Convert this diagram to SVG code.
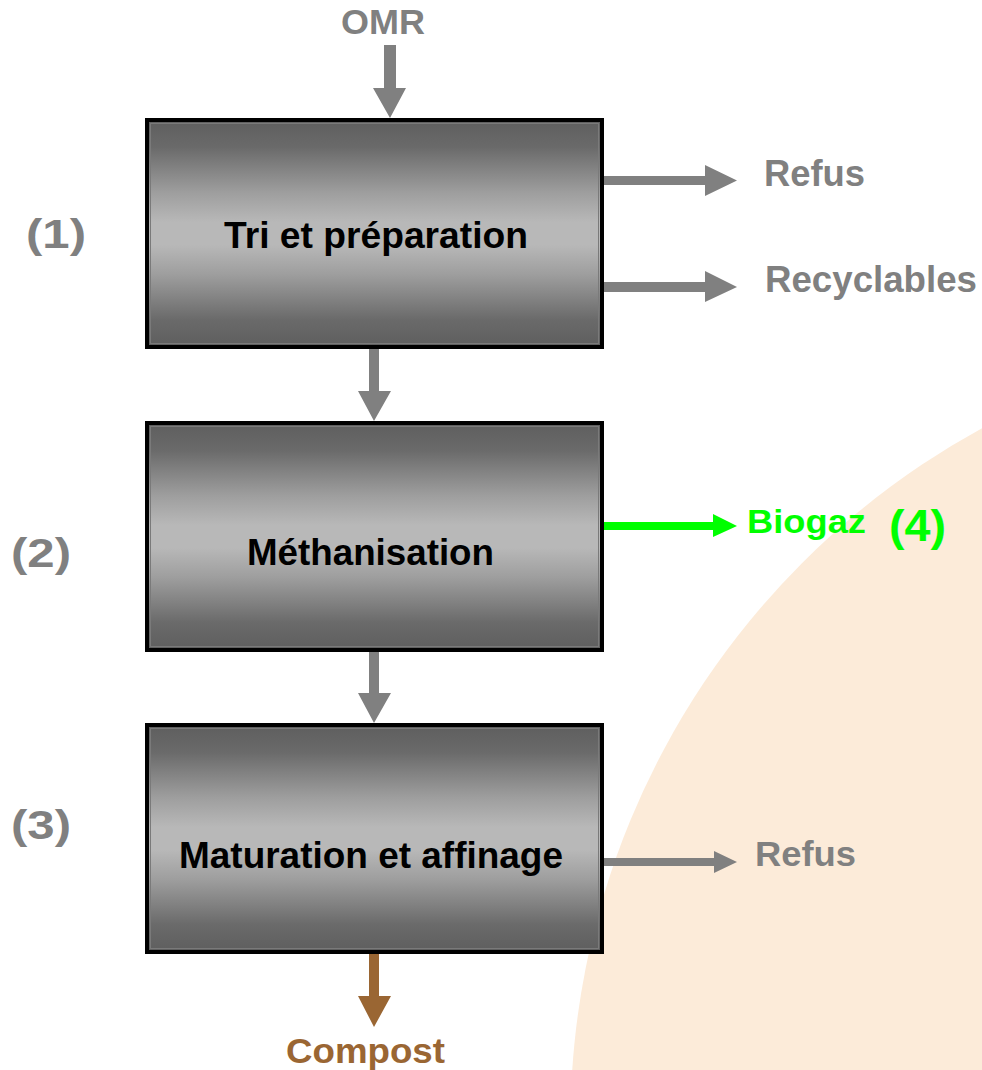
<svg xmlns="http://www.w3.org/2000/svg" width="982" height="1070" viewBox="0 0 982 1070">
<defs>
<linearGradient id="boxGrad" x1="0" y1="0" x2="0" y2="1">
<stop offset="0" stop-color="#5e5e5e"/>
<stop offset="0.12" stop-color="#6a6a6a"/>
<stop offset="0.32" stop-color="#9e9e9e"/>
<stop offset="0.45" stop-color="#b8b8b8"/>
<stop offset="0.55" stop-color="#b8b8b8"/>
<stop offset="0.68" stop-color="#9e9e9e"/>
<stop offset="0.88" stop-color="#6a6a6a"/>
<stop offset="1" stop-color="#5e5e5e"/>
</linearGradient>
</defs>
<style>
.box{fill:url(#boxGrad);stroke:#000;stroke-width:4}
.inner{fill:none;stroke:#7a7a7a;stroke-width:1}
.t{font-family:"Liberation Sans",Arial,sans-serif;font-weight:bold}
.boxt{fill:#000}
.grey{fill:#808080}
.green{fill:#00ff00}
.brown{fill:#9a6633}
.garr{fill:#808080}
</style>
<rect width="982" height="1070" fill="#ffffff"/>
<circle id="background" cx="1361.5" cy="1122.3" r="791" fill="#fcebd9"/>

<g id="connectors">
<polygon class="garr" points="384,45 396,45 396,88 406,88 390,118 373,88 384,88"/>
<polygon class="garr" points="369,349 379,349 379,391 391,391 374,421 358,391 369,391"/>
<polygon class="garr" points="369,652 379,652 379,693 391,693 374,723 358,693 369,693"/>
<polygon fill="#9a6633" points="369,954 379,954 379,996 391,996 374,1027 358,996 369,996"/>
<polygon class="garr" points="604,176 705,176 705,165 737,180.5 705,196 705,185 604,185"/>
<polygon class="garr" points="604,282 705,282 705,271 737,287 705,302 705,292 604,292"/>
<polygon fill="#00ff00" points="604,522 713,522 713,514 737,526 713,537 713,530 604,530"/>
<polygon class="garr" points="604,858 714,858 714,851 737,862 714,873 714,866 604,866"/>
</g>

<g id="node1">
<rect class="box" x="147" y="120" width="455" height="227"/>
<rect class="inner" x="150.5" y="123.5" width="448" height="220"/>
<text class="t boxt" x="224" y="248" font-size="37" textLength="304" lengthAdjust="spacingAndGlyphs">Tri et préparation</text>
</g>
<g id="node2">
<rect class="box" x="147" y="423" width="455" height="227"/>
<rect class="inner" x="150.5" y="426.5" width="448" height="220"/>
<text class="t boxt" x="247" y="565" font-size="36" textLength="247" lengthAdjust="spacingAndGlyphs">Méthanisation</text>
</g>
<g id="node3">
<rect class="box" x="147" y="725" width="455" height="227"/>
<rect class="inner" x="150.5" y="728.5" width="448" height="220"/>
<text class="t boxt" x="179" y="868" font-size="36" textLength="384" lengthAdjust="spacingAndGlyphs">Maturation et affinage</text>
</g>

<g id="labels">
<text class="t grey" x="341" y="34" font-size="35" textLength="84" lengthAdjust="spacingAndGlyphs">OMR</text>
<text class="t grey" x="764" y="186" font-size="36" textLength="101" lengthAdjust="spacingAndGlyphs">Refus</text>
<text class="t grey" x="765" y="292" font-size="36" textLength="212" lengthAdjust="spacingAndGlyphs">Recyclables</text>
<text class="t green" x="747" y="533" font-size="34" textLength="119" lengthAdjust="spacingAndGlyphs">Biogaz</text>
<text class="t green" x="889" y="541" font-size="45" textLength="57" lengthAdjust="spacingAndGlyphs">(4)</text>
<text class="t grey" x="755" y="866" font-size="35" textLength="101" lengthAdjust="spacingAndGlyphs">Refus</text>
<text class="t brown" x="286" y="1063" font-size="35" textLength="159" lengthAdjust="spacingAndGlyphs">Compost</text>
<text class="t grey" x="26" y="248" font-size="41" textLength="60" lengthAdjust="spacingAndGlyphs">(1)</text>
<text class="t grey" x="11" y="567" font-size="41" textLength="60" lengthAdjust="spacingAndGlyphs">(2)</text>
<text class="t grey" x="11" y="839" font-size="41" textLength="60" lengthAdjust="spacingAndGlyphs">(3)</text>
</g>
</svg>
